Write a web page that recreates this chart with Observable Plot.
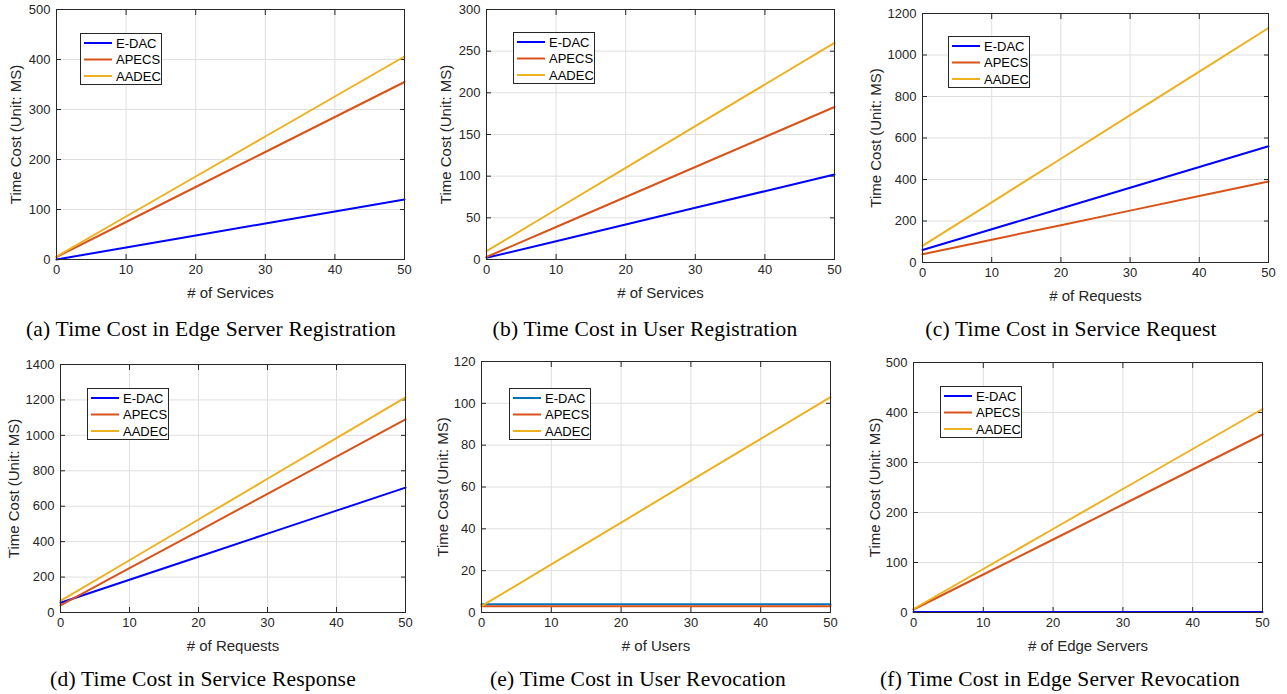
<!DOCTYPE html>
<html>
<head>
<meta charset="utf-8">
<script src="https://cdn.jsdelivr.net/npm/d3@7"></script>
<script src="https://cdn.jsdelivr.net/npm/@observablehq/plot@0.6"></script>
<style>
  body { margin: 0; background: #fff; }
  #root { position: relative; width: 1287px; height: 694px; overflow: hidden; background: #fff; }
  .panel { position: absolute; }
  .caption { position: absolute; font-family: "Liberation Serif", "Times New Roman", serif; font-size: 21.5px; letter-spacing: 0.2px; line-height: 22px; color: #000; white-space: nowrap; transform: translateX(-50%); }
  .legend { position: absolute; }
  g[aria-label="x-axis label"], g[aria-label="y-axis label"] { font-size: 15px; }
</style>
</head>
<body>
<div id="root"></div>
<script>
// ---------- data ----------
const xValues = [0, 10, 20, 30, 40, 50];
const seriesNames = ["E-DAC", "APECS", "AADEC"];
const xTicks = [0, 10, 20, 30, 40, 50];

// (a) Edge Server Registration
const edacA  = [0, 24, 48, 72, 96, 120];
const apecsA = [5, 75, 145, 215, 285, 355];
const aadecA = [6, 86, 166, 246, 326, 406];
const yTicksA = [0, 100, 200, 300, 400, 500];

// (b) User Registration
const edacB  = [2, 22, 42, 62, 82, 102];
const apecsB = [3, 39, 75, 111, 147, 183];
const aadecB = [10, 60, 110, 160, 210, 260];
const yTicksB = [0, 50, 100, 150, 200, 250, 300];

// (c) Service Request
const edacC  = [60, 160, 260, 360, 460, 560];
const apecsC = [40, 110, 180, 250, 320, 390];
const aadecC = [80, 290, 500, 710, 920, 1130];
const yTicksC = [0, 200, 400, 600, 800, 1000, 1200];

// (d) Service Response
const edacD  = [55, 185, 315, 445, 575, 705];
const apecsD = [40, 250, 460, 670, 880, 1090];
const aadecD = [65, 295, 525, 755, 985, 1215];
const yTicksD = [0, 200, 400, 600, 800, 1000, 1200, 1400];

// (e) User Revocation
const edacE  = [4, 4, 4, 4, 4, 4];
const apecsE = [3, 3, 3, 3, 3, 3];
const aadecE = [3, 23, 43, 63, 83, 103];
const yTicksE = [0, 20, 40, 60, 80, 100, 120];

// (f) Edge Server Revocation
const edacF  = [1, 1, 1, 1, 1, 1];
const apecsF = [6, 76, 146, 216, 286, 356];
const aadecF = [7, 87, 167, 247, 327, 407];
const yTicksF = [0, 100, 200, 300, 400, 500];

const colorsMain = ["#0000ff", "#d95319", "#edb120"];
const colorsE    = ["#0072bd", "#d95319", "#edb120"];

// ---------- layout ----------
const panels = [
  { id: "a", caption: "(a) Time Cost in Edge Server Registration", xLabel: "# of Services",
    series: [edacA, apecsA, aadecA], yTicks: yTicksA, colors: colorsMain,
    cont: [0, 0, 430, 305], box: [56, 404, 9, 259], yLabelLeft: 10, legend: [80, 33], capX: 211, capY: 318 },
  { id: "b", caption: "(b) Time Cost in User Registration", xLabel: "# of Services",
    series: [edacB, apecsB, aadecB], yTicks: yTicksB, colors: colorsMain,
    cont: [430, 0, 430, 305], box: [486, 834, 9, 259], yLabelLeft: 440, legend: [513, 32], capX: 645, capY: 318 },
  { id: "c", caption: "(c) Time Cost in Service Request", xLabel: "# of Requests",
    series: [edacC, apecsC, aadecC], yTicks: yTicksC, colors: colorsMain,
    cont: [860, 0, 427, 305], box: [922, 1268, 13, 262], yLabelLeft: 870, legend: [948, 36], capX: 1071, capY: 318 },
  { id: "d", caption: "(d) Time Cost in Service Response", xLabel: "# of Requests",
    series: [edacD, apecsD, aadecD], yTicks: yTicksD, colors: colorsMain,
    cont: [0, 350, 430, 305], box: [60, 405, 364, 612], yLabelLeft: 8, legend: [87, 388], capX: 203, capY: 668 },
  { id: "e", caption: "(e) Time Cost in User Revocation", xLabel: "# of Users",
    series: [edacE, apecsE, aadecE], yTicks: yTicksE, colors: colorsE,
    cont: [430, 350, 430, 305], box: [481, 830, 361, 612], yLabelLeft: 437, legend: [509, 388], capX: 638, capY: 668 },
  { id: "f", caption: "(f) Time Cost in Edge Server Revocation", xLabel: "# of Edge Servers",
    series: [edacF, apecsF, aadecF], yTicks: yTicksF, colors: colorsMain,
    cont: [860, 350, 427, 305], box: [913, 1262, 362, 612], yLabelLeft: 869, legend: [940, 386], capX: 1060, capY: 668 }
];

const root = document.getElementById("root");
const axisColor = "#262626";
const gridColor = "#dfdfdf";
const fmt = d => String(d);

for (const p of panels) {
  const [cl, ct, cw, ch] = p.cont;
  const [x0, x1, y0, y1] = p.box;
  const rows = [];
  p.series.forEach((vals, si) => vals.forEach((v, i) => rows.push({ series: seriesNames[si], x: xValues[i], y: v })));
  const yMax = p.yTicks[p.yTicks.length - 1];

  const chart = Plot.plot({
    width: cw, height: ch,
    marginLeft: x0 - cl, marginRight: cl + cw - x1,
    marginTop: y0 - ct, marginBottom: ct + ch - y1,
    style: { fontFamily: "'Liberation Sans', Arial, Helvetica, sans-serif", fontSize: "13px", color: axisColor, background: "transparent", overflow: "visible" },
    x: { domain: [0, 50] },
    y: { domain: [0, yMax] },
    color: { domain: seriesNames, range: p.colors },
    marks: [
      Plot.gridX(xTicks, { stroke: gridColor, strokeOpacity: 1 }),
      Plot.gridY(p.yTicks, { stroke: gridColor, strokeOpacity: 1 }),
      Plot.axisX(xTicks, { anchor: "bottom", tickSize: 5, dy: -5, text: null, label: null, stroke: axisColor }),
      Plot.axisX(xTicks, { anchor: "top", tickSize: 5, dy: 5, text: null, label: null, stroke: axisColor }),
      Plot.axisY(p.yTicks, { anchor: "left", tickSize: 5, dx: 5, text: null, label: null, stroke: axisColor }),
      Plot.axisY(p.yTicks, { anchor: "right", tickSize: 5, dx: -5, text: null, label: null, stroke: axisColor }),
      Plot.line(rows, { x: "x", y: "y", z: "series", stroke: "series", strokeWidth: 2 }),
      Plot.frame({ stroke: axisColor, strokeWidth: 1 }),
      Plot.axisX(xTicks, { anchor: "bottom", tickSize: 0, tickPadding: 5, tickFormat: fmt, label: p.xLabel, labelAnchor: "center", labelArrow: "none", labelOffset: 38, fill: axisColor }),
      Plot.axisY(p.yTicks, { anchor: "left", tickSize: 0, tickPadding: 6, tickFormat: fmt, label: "Time Cost (Unit: MS)", labelAnchor: "center", labelArrow: "none", labelOffset: x0 - p.yLabelLeft, fill: axisColor })
    ]
  });
  const div = document.createElement("div");
  div.className = "panel";
  div.style.left = cl + "px";
  div.style.top = ct + "px";
  div.appendChild(chart);
  root.appendChild(div);

  // legend
  const lg = document.createElement("div");
  lg.className = "legend";
  lg.style.left = p.legend[0] + "px";
  lg.style.top = p.legend[1] + "px";
  const svg = d3.create("svg").attr("width", 82).attr("height", 52)
    .style("font-family", "'Liberation Sans', Arial, Helvetica, sans-serif").style("font-size", "13px");
  svg.append("rect").attr("x", 0.5).attr("y", 0.5).attr("width", 81).attr("height", 51)
    .attr("fill", "#fff").attr("stroke", axisColor);
  seriesNames.forEach((name, i) => {
    const yy = 10 + i * 16.5;
    svg.append("line").attr("x1", 4).attr("x2", 32).attr("y1", yy).attr("y2", yy)
      .attr("stroke", p.colors[i]).attr("stroke-width", 2);
    svg.append("text").attr("x", 36).attr("y", yy).attr("dy", "0.35em").attr("fill", "#000").text(name);
  });
  lg.appendChild(svg.node());
  root.appendChild(lg);

  // caption
  const cap = document.createElement("div");
  cap.className = "caption";
  cap.style.left = p.capX + "px";
  cap.style.top = p.capY + "px";
  cap.textContent = p.caption;
  root.appendChild(cap);
}
</script>
</body>
</html>
